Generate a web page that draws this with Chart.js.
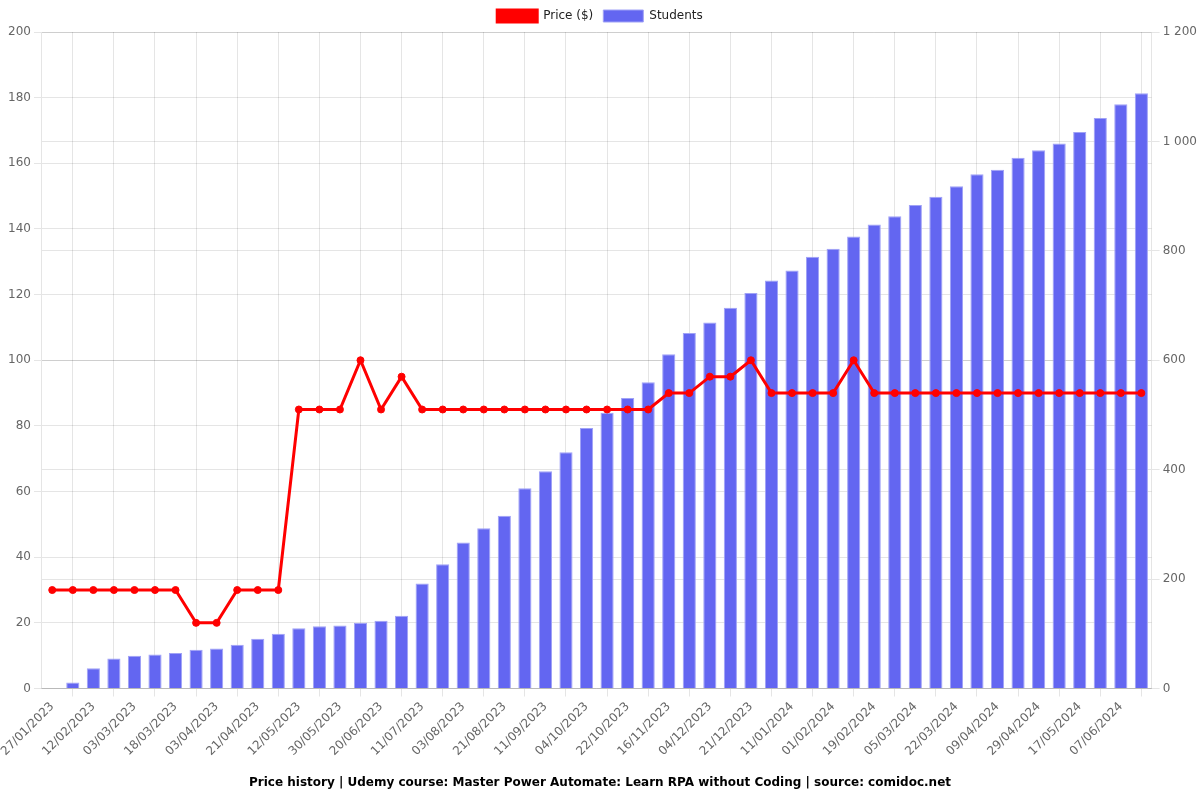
<!DOCTYPE html>
<html>
<head>
<meta charset="utf-8">
<script src="https://cdn.jsdelivr.net/npm/chart.js@4"></script>
<style>
  html, body { margin: 0; padding: 0; background: #fff; }
  #wrap { width: 1200px; height: 800px; }
</style>
</head>
<body>
<div id="wrap"><canvas id="priceChart" width="1200" height="800"></canvas></div>
<script>
// dates of the snapshots (only every second one is shown on the axis)
const dates = [
  '27/01/2023', '04/02/2023', '12/02/2023', '22/02/2023', '03/03/2023', '10/03/2023',
  '18/03/2023', '26/03/2023', '03/04/2023', '12/04/2023', '21/04/2023', '01/05/2023',
  '12/05/2023', '21/05/2023', '30/05/2023', '09/06/2023', '20/06/2023', '30/06/2023',
  '11/07/2023', '23/07/2023', '03/08/2023', '12/08/2023', '21/08/2023', '31/08/2023',
  '11/09/2023', '22/09/2023', '04/10/2023', '13/10/2023', '22/10/2023', '03/11/2023',
  '16/11/2023', '25/11/2023', '04/12/2023', '12/12/2023', '21/12/2023', '01/01/2024',
  '11/01/2024', '21/01/2024', '01/02/2024', '10/02/2024', '19/02/2024', '27/02/2024',
  '05/03/2024', '13/03/2024', '22/03/2024', '31/03/2024', '09/04/2024', '19/04/2024',
  '29/04/2024', '08/05/2024', '17/05/2024', '28/05/2024', '07/06/2024', '17/06/2024'
];

const price = [
  30, 30, 30, 30, 30, 30, 30, 20, 20, 30, 30, 30,
  85, 85, 85, 100, 85, 95, 85, 85, 85, 85, 85, 85,
  85, 85, 85, 85, 85, 85, 90, 90, 95, 95, 100, 90,
  90, 90, 90, 100, 90, 90, 90, 90, 90, 90, 90, 90,
  90, 90, 90, 90, 90, 90
];

const students = [
  0, 11, 37, 55, 60, 62, 65, 71, 73, 80, 91, 100,
  110, 114, 115, 120, 124, 133, 192, 227, 267, 293, 316, 366,
  397, 432, 476, 504, 531, 560, 611, 650, 669, 696, 723, 746,
  764, 789, 804, 826, 848, 863, 884, 899, 918, 940, 948, 970,
  984, 996, 1017, 1043, 1068, 1088
];

const chartTitle = 'Price history | Udemy course: Master Power Automate: Learn RPA without Coding | source: comidoc.net';

Chart.defaults.font.family = 'DejaVu Sans';
Chart.defaults.font.size = 12;
Chart.defaults.color = '#666';

document.addEventListener('DOMContentLoaded', function () {
  const ctx = document.getElementById('priceChart').getContext('2d');
  const chart = new Chart(ctx, {
    type: 'bar',
    data: {
      labels: dates,
      datasets: [{
        type: 'line',
        label: 'Price ($)',
        data: price,
        yAxisID: 'y',
        borderColor: 'rgb(255, 0, 0)',
        backgroundColor: 'rgb(255, 0, 0)',
        borderWidth: 3,
        pointRadius: 3.5,
        pointBorderWidth: 1,
        pointBackgroundColor: 'rgb(255, 0, 0)',
        tension: 0
      }, {
        type: 'bar',
        label: 'Students',
        data: students,
        yAxisID: 'y1',
        backgroundColor: 'rgb(99, 102, 241)',
        borderColor: 'rgba(160, 162, 246, 1)',
        borderWidth: 1,
        barPercentage: 0.8,
        categoryPercentage: 0.8
      }]
    },
    options: {
      responsive: false,
      maintainAspectRatio: false,
      animation: false,
      plugins: {
        legend: {
          position: 'top',
          labels: { color: '#222', boxWidth: 40 }
        },
        title: {
          display: true,
          position: 'bottom',
          text: chartTitle,
          color: '#000',
          font: { size: 12, weight: 'bold' },
          padding: { top: 14, bottom: 10 }
        },
        tooltip: { enabled: false }
      },
      scales: {
        x: {
          ticks: { maxRotation: 45, minRotation: 45 },
          grid: { color: 'rgba(0,0,0,0.1)' }
        },
        y: {
          position: 'left',
          min: 0,
          max: 200,
          ticks: { stepSize: 20 },
          grid: { color: 'rgba(0,0,0,0.1)' }
        },
        y1: {
          position: 'right',
          min: 0,
          max: 1200,
          ticks: {
            stepSize: 200,
            callback: function (v) {
              return String(v).replace(/\B(?=(\d{3})+(?!\d))/g, ' ');
            }
          },
          grid: { color: 'rgba(0,0,0,0.1)' }
        }
      }
    }
  });
});
</script>
</body>
</html>
